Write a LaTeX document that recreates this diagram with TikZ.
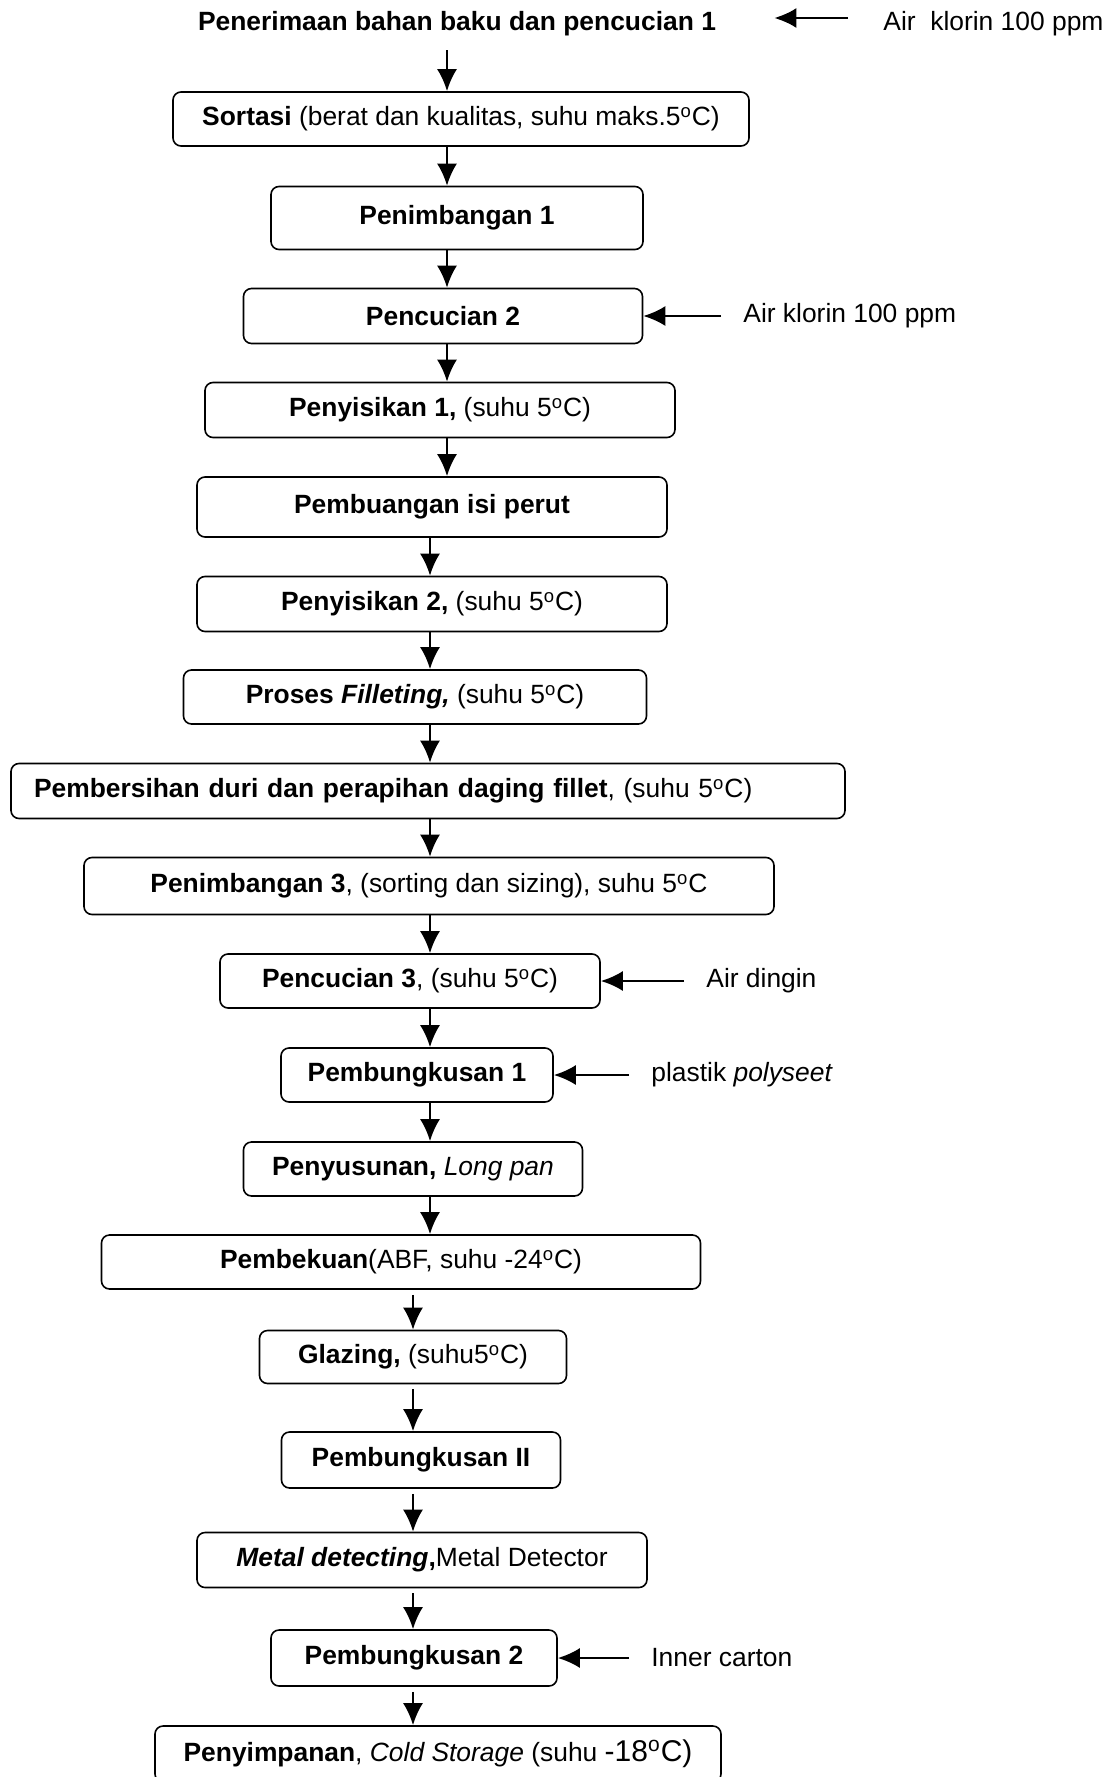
\documentclass[tikz,border=0pt]{standalone}
\usepackage{fontspec}
\setmainfont{Liberation Sans}
\usetikzlibrary{shapes,arrows.meta,positioning,calc}
\newcommand{\drj}{\textsuperscript{o}}

\begin{document}
\begin{tikzpicture}[x=0.5pt,y=-0.5pt,
  every node/.style={font=\fontsize{13.2}{15}\selectfont},
  proses/.style={draw,rounded corners=4pt,line width=0.8pt,inner sep=2pt},
  ket/.style={anchor=west,inner xsep=11pt,inner ysep=0pt},
  panah/.style={line width=1.2pt,-{Latex[length=11pt,width=10pt]}}]

\useasboundingbox (0,0) rectangle (1110,1777);

% judul dan air klorin
\node[minimum width=317pt,minimum height=26pt,inner sep=0pt] (judul) at (457,24) {\textbf{Penerimaan bahan baku dan pencucian 1}};
\node[ket,inner xsep=17.5pt] (air1) at (848,24) {Air\ \ klorin 100 ppm};

% kotak proses
\node[proses,minimum width=288pt,minimum height=27pt] (sortasi) at (461,119) {\textbf{Sortasi} (berat dan kualitas, suhu maks.5\drj C)};
\node[proses,minimum width=186pt,minimum height=31.5pt] (timbang1) at (457,218) {\textbf{Penimbangan 1}};
\node[proses,minimum width=199.5pt,minimum height=27.5pt] (cuci2) at (443,316) {\textbf{Pencucian 2}};
\node[proses,minimum width=235pt,minimum height=27.5pt] (sisik1) at (440,410) {\textbf{Penyisikan 1,} (suhu 5\drj C)};
\node[proses,minimum width=235pt,minimum height=30pt] (buang) at (432,507) {\textbf{Pembuangan isi perut}};
\node[proses,minimum width=235pt,minimum height=27.5pt] (sisik2) at (432,604) {\textbf{Penyisikan 2,} (suhu 5\drj C)};
\node[proses,minimum width=231.5pt,minimum height=27pt] (fillet) at (415,697) {\textbf{Proses \textit{Filleting,}} (suhu 5\drj C)};
\node[proses,text width=394pt,align=left,inner xsep=11.5pt,minimum height=27.5pt] (bersih) at (428,791) {\textbf{Pembersihan duri dan perapihan daging fillet}, (suhu 5\drj C)};
\node[proses,minimum width=345pt,minimum height=28.5pt] (timbang3) at (429,886) {\textbf{Penimbangan 3}, (sorting dan sizing), suhu 5\drj C};
\node[proses,minimum width=190pt,minimum height=27pt] (cuci3) at (410,981) {\textbf{Pencucian 3}, (suhu 5\drj C)};
\node[proses,minimum width=136pt,minimum height=27pt] (bungkus1) at (417,1075) {\textbf{Pembungkusan 1}};
\node[proses,minimum width=169.5pt,minimum height=27pt] (susun) at (413,1169) {\textbf{Penyusunan,} \textit{Long pan}};
\node[proses,minimum width=299.5pt,minimum height=27pt] (beku) at (401,1262) {\textbf{Pembekuan}(ABF, suhu -24\drj C)};
\node[proses,minimum width=153.5pt,minimum height=26.5pt] (glazing) at (413,1357) {\textbf{Glazing,} (suhu5\drj C)};
\node[proses,minimum width=139.5pt,minimum height=28pt] (bungkusII) at (421,1460) {\textbf{Pembungkusan II}};
\node[proses,minimum width=225pt,minimum height=27.5pt] (metal) at (422,1560) {\textbf{\textit{Metal detecting},}Metal Detector};
\node[proses,minimum width=143pt,minimum height=28pt] (bungkus2) at (414,1658) {\textbf{Pembungkusan 2}};
\node[proses,minimum width=283pt,minimum height=28pt] (simpan) at (438,1754) {\textbf{Penyimpanan}, \textit{Cold Storage} (suhu {\fontsize{15}{17}\selectfont -18\drj C)}};

% bahan masuk dari samping
\node[ket] (air2) at (721,316) {Air klorin 100 ppm};
\node[ket] (dingin) at (684,981) {Air dingin};
\node[ket] (plastik) at (629,1075) {plastik \textit{polyseet}};
\node[ket] (karton) at (629,1658) {Inner carton};

% garis alur
\coordinate (k1) at (447,0);
\coordinate (k2) at (430,0);
\coordinate (k3) at (413,0);

\foreach \a/\b/\k in {judul/sortasi/k1, sortasi/timbang1/k1, timbang1/cuci2/k1, cuci2/sisik1/k1, sisik1/buang/k1,
  buang/sisik2/k2, sisik2/fillet/k2, fillet/bersih/k2, bersih/timbang3/k2, timbang3/cuci3/k2, cuci3/bungkus1/k2, bungkus1/susun/k2, susun/beku/k2}
  \draw[panah] (\a.south -| \k) -- (\b.north -| \k);
\foreach \a/\b in {beku/glazing, glazing/bungkusII, bungkusII/metal, metal/bungkus2, bungkus2/simpan}
  \draw[panah,shorten <=2.5pt] (\a.south -| k3) -- (\b.north -| k3);

\draw[panah] ([yshift=3pt]air1.west) -- ([yshift=3pt]air1.west -| judul.east);
\foreach \s/\t in {air2/cuci2, dingin/cuci3, plastik/bungkus1, karton/bungkus2}
  \draw[panah] (\s.west) -- (\s.west -| \t.east);
\end{tikzpicture}
\end{document}
